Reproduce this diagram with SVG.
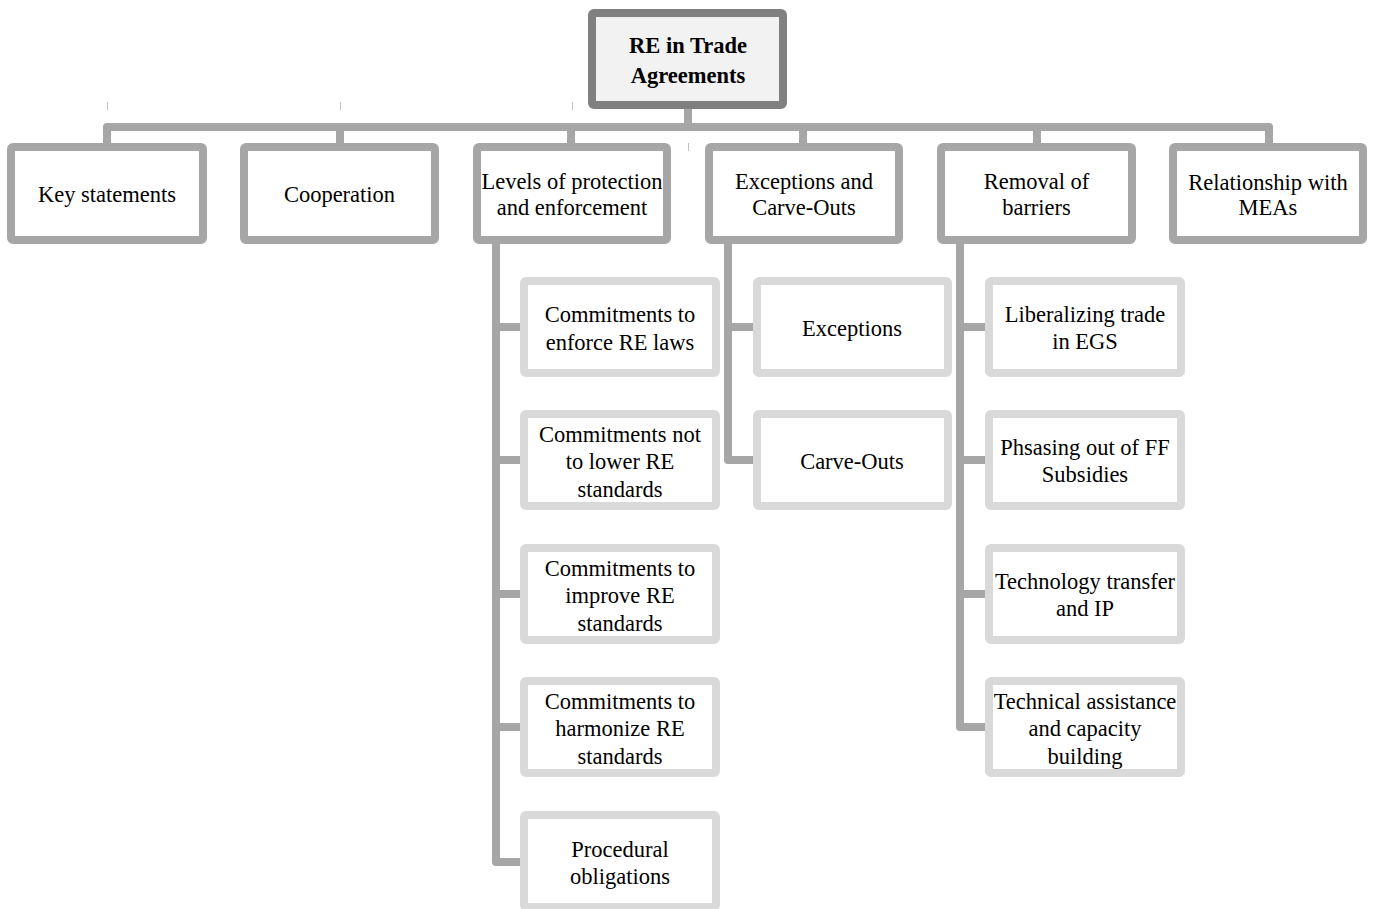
<svg xmlns="http://www.w3.org/2000/svg" width="1375" height="909" viewBox="0 0 1375 909">
<style>
.bg{fill:#ffffff}
.root{fill:#f2f2f2;stroke:#808080;stroke-width:8}
.l1{fill:#ffffff;stroke:#a6a6a6;stroke-width:8}
.l2{fill:#ffffff;stroke:#d9d9d9;stroke-width:8}
.con{fill:none;stroke:#a6a6a6;stroke-width:8;stroke-linejoin:round}
.tick{stroke:#bfbfbf;stroke-width:1}
text{font-family:"Liberation Serif","Times New Roman",serif;font-size:22.5px;fill:#000;text-anchor:middle}
.b{font-weight:bold}
</style>
<rect class="bg" x="0" y="0" width="1375" height="909"/>
<g id="ticks">
<line class="tick" x1="107.5" y1="102" x2="107.5" y2="110"/>
<line class="tick" x1="340.5" y1="102" x2="340.5" y2="110"/>
<line class="tick" x1="572.5" y1="102" x2="572.5" y2="110"/>
<line class="tick" x1="688.5" y1="143" x2="688.5" y2="151"/>
</g>
<g id="connectors">
<path class="con" d="M688,105 V127"/>
<path class="con" d="M107,147 V127 H1269 V147"/>
<path class="con" d="M340,127 V147 M571,127 V147 M803,127 V147 M1037,127 V147"/>
<path class="con" d="M496,240 V862 H524 M496,327 H524 M496,460 H524 M496,594 H524 M496,727 H524"/>
<path class="con" d="M728,240 V460 H757 M728,327 H757"/>
<path class="con" d="M960,240 V727 H989 M960,327 H989 M960,460 H989 M960,594 H989"/>
</g>
<g id="root"><rect class="root" x="592" y="13" width="191" height="92" rx="2"/><text class="b" x="688" y="53">RE in Trade</text><text class="b" x="688" y="83">Agreements</text></g>
<g id="key"><rect class="l1" x="11" y="147" width="192" height="93" rx="2"/><text x="107" y="202">Key statements</text></g>
<g id="coop"><rect class="l1" x="244" y="147" width="191" height="93" rx="2"/><text x="339.5" y="202">Cooperation</text></g>
<g id="levels"><rect class="l1" x="477" y="147" width="190" height="93" rx="2"/><text x="572" y="189">Levels of protection</text><text x="572" y="215">and enforcement</text></g>
<g id="exc"><rect class="l1" x="709" y="147" width="190" height="93" rx="2"/><text x="804" y="189">Exceptions and</text><text x="804" y="215">Carve-Outs</text></g>
<g id="removal"><rect class="l1" x="941" y="147" width="191" height="93" rx="2"/><text x="1036.5" y="189">Removal of</text><text x="1036.5" y="215">barriers</text></g>
<g id="meas"><rect class="l1" x="1173" y="147" width="190" height="93" rx="2"/><text x="1268" y="190">Relationship with</text><text x="1268" y="215">MEAs</text></g>
<g id="c1"><rect class="l2" x="524" y="281" width="192" height="92" rx="2"/><text x="620" y="322">Commitments to</text><text x="620" y="350">enforce RE laws</text></g>
<g id="c2"><rect class="l2" x="524" y="414" width="192" height="92" rx="2"/><text x="620" y="442">Commitments not</text><text x="620" y="469">to lower RE</text><text x="620" y="497">standards</text></g>
<g id="c3"><rect class="l2" x="524" y="548" width="192" height="92" rx="2"/><text x="620" y="576">Commitments to</text><text x="620" y="603">improve RE</text><text x="620" y="631">standards</text></g>
<g id="c4"><rect class="l2" x="524" y="681" width="192" height="92" rx="2"/><text x="620" y="709">Commitments to</text><text x="620" y="736">harmonize RE</text><text x="620" y="764">standards</text></g>
<g id="c5"><rect class="l2" x="524" y="815" width="192" height="92" rx="2"/><text x="620" y="857">Procedural</text><text x="620" y="884">obligations</text></g>
<g id="e1"><rect class="l2" x="757" y="281" width="191" height="92" rx="2"/><text x="852" y="336">Exceptions</text></g>
<g id="e2"><rect class="l2" x="757" y="414" width="191" height="92" rx="2"/><text x="852" y="469">Carve-Outs</text></g>
<g id="r1"><rect class="l2" x="989" y="281" width="192" height="92" rx="2"/><text x="1085" y="322">Liberalizing trade</text><text x="1085" y="349">in EGS</text></g>
<g id="r2"><rect class="l2" x="989" y="414" width="192" height="92" rx="2"/><text x="1085" y="455">Phsasing out of FF</text><text x="1085" y="482">Subsidies</text></g>
<g id="r3"><rect class="l2" x="989" y="548" width="192" height="92" rx="2"/><text x="1085" y="589">Technology transfer</text><text x="1085" y="616">and IP</text></g>
<g id="r4"><rect class="l2" x="989" y="681" width="192" height="92" rx="2"/><text x="1085" y="709">Technical assistance</text><text x="1085" y="736">and capacity</text><text x="1085" y="764">building</text></g>
</svg>
